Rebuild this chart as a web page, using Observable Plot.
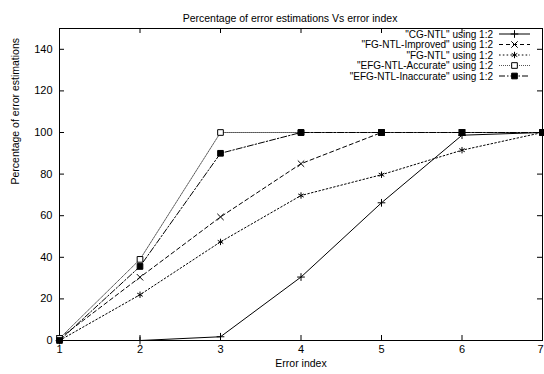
<!DOCTYPE html>
<html>
<head>
<meta charset="utf-8">
<script src="https://cdn.jsdelivr.net/npm/d3@7"></script>
<script src="https://cdn.jsdelivr.net/npm/@observablehq/plot@0.6"></script>
<style>
  html, body { margin: 0; padding: 0; background: #fff; }
  #chart svg { display: block; }
</style>
</head>
<body>
<div id="chart"></div>
<script>
const title = "Percentage of error estimations Vs error index";
const xLabel = "Error index";
const yLabel = "Percentage of error estimations";
const xTicks = [1, 2, 3, 4, 5, 6, 7];
const yTicks = [0, 20, 40, 60, 80, 100, 120, 140];
const errorIndex = [1, 2, 3, 4, 5, 6, 7];
const seriesNames = [
  "\"CG-NTL\" using 1:2",
  "\"FG-NTL-Improved\" using 1:2",
  "\"FG-NTL\" using 1:2",
  "\"EFG-NTL-Accurate\" using 1:2",
  "\"EFG-NTL-Inaccurate\" using 1:2"
];
const cgNtl = [0, 0, 1.8, 30.5, 66.2, 98.7, 100];
const fgNtlImproved = [1, 30.4, 59.4, 85, 100, 100, 100];
const fgNtl = [0, 22, 47.4, 69.7, 79.7, 91.5, 100];
const efgNtlAccurate = [1, 39, 100, 100, 100, 100, 100];
const efgNtlInaccurate = [0, 35.6, 90, 100, 100, 100, 100];

const seriesValues = [cgNtl, fgNtlImproved, fgNtl, efgNtlAccurate, efgNtlInaccurate];

const styles = [
  {dash: null, stroke: "#000", symbol: "plus", fill: "none", r: 2.6},
  {dash: "4,3", stroke: "#000", symbol: "times", fill: "none", r: 3},
  {dash: "1.6,2.2", stroke: "#000", symbol: "asterisk", fill: "none", r: 3},
  {dash: "1,1", stroke: "#555", symbol: "square", fill: "#fff", r: 3.2},
  {dash: "6,2,1.5,2", stroke: "#000", symbol: "square", fill: "#000", r: 3.2}
];

const W = 544, H = 374;
const mL = 59, mR = 2, mT = 28, mB = 34;
const fw = W - mL - mR, fh = H - mT - mB;
const tickLen = 5;

const lastX = xTicks[xTicks.length - 1];
const marks = [];
marks.push(Plot.frame({stroke: "#000", strokeWidth: 1}));
marks.push(Plot.tickY(yTicks, {y: d => d, insetRight: fw - tickLen, stroke: "#000"}));
marks.push(Plot.tickY(yTicks, {y: d => d, insetLeft: fw - tickLen, stroke: "#000"}));
marks.push(Plot.tickX(xTicks, {x: d => d, insetTop: fh - tickLen, stroke: "#000"}));
marks.push(Plot.tickX(xTicks, {x: d => d, insetBottom: fh - tickLen, stroke: "#000"}));
marks.push(Plot.axisX(xTicks.slice(0, -1), {tickSize: 0, tickPadding: 5, tickFormat: d => String(d), label: null, fontSize: 11}));
marks.push(Plot.axisX([lastX], {tickSize: 0, tickPadding: 5, tickFormat: d => String(d), label: null, fontSize: 11, textAnchor: "end", dx: 1}));
marks.push(Plot.axisY({ticks: yTicks, tickSize: 0, tickPadding: 7, tickFormat: d => String(d), label: null, fontSize: 11}));
marks.push(Plot.text([xLabel], {frameAnchor: "bottom", dy: 26, fontSize: 10.5}));
marks.push(Plot.text([yLabel], {frameAnchor: "left", dx: -44, rotate: -90, fontSize: 10.5}));
marks.push(Plot.text([title], {frameAnchor: "top", dy: -14, dx: -11, fontSize: 10.5}));

seriesValues.forEach((vals, i) => {
  const data = errorIndex.map((x, j) => ({x, y: vals[j]}));
  const s = styles[i];
  marks.push(Plot.line(data, {x: "x", y: "y", stroke: s.stroke, strokeWidth: 1, strokeDasharray: s.dash}));
});
seriesValues.forEach((vals, i) => {
  const data = errorIndex.map((x, j) => ({x, y: vals[j]}));
  const s = styles[i];
  marks.push(Plot.dot(data, {x: "x", y: "y", symbol: s.symbol, r: s.r, stroke: "#000", fill: s.fill, strokeWidth: 1}));
});

const chart = Plot.plot({
  width: W,
  height: H,
  marginLeft: mL,
  marginRight: mR,
  marginTop: mT,
  marginBottom: mB,
  style: {fontFamily: "'Liberation Sans', Arial, sans-serif", fontSize: "10px", color: "#000", background: "#fff"},
  x: {domain: [1, 7]},
  y: {domain: [0, 150]},
  marks
});

const svg = d3.select(chart);
const lg = svg.append("g").attr("font-family", "'Liberation Sans', Arial, sans-serif").attr("font-size", 10);
const symMap = {plus: d3.symbolPlus, times: d3.symbolTimes, asterisk: d3.symbolAsterisk, square: d3.symbolSquare};
seriesNames.forEach((name, i) => {
  const yy = 34 + i * 10.5;
  const s = styles[i];
  lg.append("text").attr("x", 493).attr("y", yy).attr("dy", "0.35em").attr("text-anchor", "end").attr("fill", "#000").text(name);
  lg.append("line").attr("x1", 499).attr("x2", 530).attr("y1", yy).attr("y2", yy)
    .attr("stroke", s.stroke).attr("stroke-width", 1).attr("stroke-dasharray", s.dash);
  lg.append("path").attr("transform", `translate(514.5,${yy})`)
    .attr("d", d3.symbol(symMap[s.symbol], Math.PI * s.r * s.r)())
    .attr("stroke", "#000").attr("fill", s.fill).attr("stroke-width", 1);
});

document.getElementById("chart").appendChild(chart);
</script>
</body>
</html>
